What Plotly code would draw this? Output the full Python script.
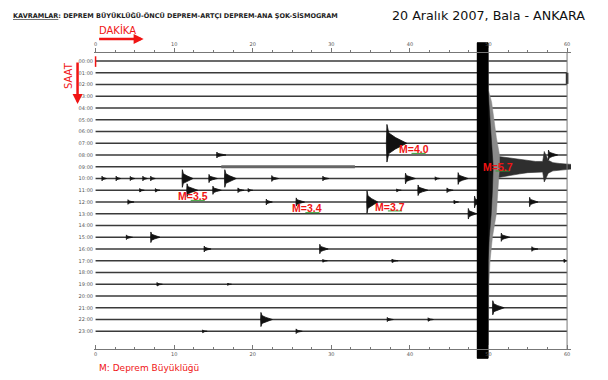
import plotly.graph_objects as go

# ---------------- data ----------------
HOURS = list(range(24))
HOUR_LABELS = ["00:00", "01:00", "02:00", "03:00", "04:00", "05:00", "06:00", "07:00",
               "08:00", "09:00", "10:00", "11:00", "12:00", "13:00", "14:00", "15:00",
               "16:00", "17:00", "18:00", "19:00", "20:00", "21:00", "22:00", "23:00"]
MINUTE_TICKS = [0, 10, 20, 30, 40, 50, 60]

# individual earthquakes: hour row, onset minute, half-amplitude (rows), duration (min)
ev_hour = [7, 8, 8, 10, 10, 10, 10, 10, 10, 10, 10, 10, 10, 10, 10, 10,
           11, 11, 11, 11, 11, 11, 11, 11, 11,
           12, 12, 12, 12, 12, 12, 12, 13,
           15, 15, 15, 16, 16, 16, 17, 17, 17, 19, 19, 21, 22, 22, 22, 23, 23]
ev_min = [37.0, 15.4, 57.6, 0.8, 2.6, 4.4, 6.0, 7.0, 11.0, 14.4, 16.4, 22.4, 28.9, 39.4, 43.2, 46.1,
          5.6, 7.6, 11.6, 14.9, 18.1, 19.4, 38.3, 41.0, 44.7,
          4.1, 21.7, 25.5, 34.5, 45.6, 48.2, 55.2, 47.4,
          3.9, 7.0, 51.6, 13.8, 28.5, 55.5, 28.9, 37.7, 59.6, 7.8, 16.8, 50.5, 21.0, 37.1, 42.3, 13.6, 25.5]
ev_amp = [1.6, 0.25, 0.42, 0.2, 0.2, 0.18, 0.2, 0.2, 0.75, 0.35, 0.75, 0.25, 0.2, 0.45, 0.15, 0.5,
          0.15, 0.15, 0.55, 0.35, 0.2, 0.15, 0.12, 0.45, 0.2,
          0.2, 0.25, 0.35, 0.95, 0.15, 0.5, 0.4, 0.45,
          0.2, 0.45, 0.35, 0.25, 0.4, 0.2, 0.12, 0.15, 0.15, 0.15, 0.1, 0.6, 0.6, 0.18, 0.15, 0.12, 0.2]
ev_dur = [2.6, 1.2, 1.2, 0.6, 0.6, 0.6, 0.6, 0.6, 1.4, 1.1, 1.5, 0.9, 0.8, 1.3, 0.6, 1.3,
          0.6, 0.6, 1.4, 1.1, 0.8, 0.6, 0.6, 1.3, 0.8,
          0.8, 0.8, 1.1, 1.4, 0.6, 0.9, 1.1, 1.1,
          0.8, 1.2, 1.1, 0.9, 1.1, 0.8, 0.6, 0.8, 0.4, 0.7, 0.5, 1.5, 1.5, 0.8, 0.7, 0.6, 0.8]

# noisier (wavy) stretch of a trace
wavy_hour = [9]
wavy_start = [16.0]
wavy_end = [33.0]

# main shock M=5.7 (saturated band crossing every trace)
main_hour = 9
main_start = 48.55
main_end = 49.95
main_band_top = -1.55
main_band_bottom = 25.3
# right-hand edge of the saturated band (grey strands / dark part) per hour
fringe_hour = [-1.55, 2.5, 3.5, 5.0, 6.5, 8.0, 9.0, 11.0, 13.0, 15.0, 17.0, 19.0, 25.3]
fringe_outer = [49.95, 50.0, 50.4, 50.7, 51.0, 51.4, 51.4, 51.2, 51.0, 50.5, 50.2, 50.05, 49.95]
fringe_inner = [49.95, 49.95, 50.05, 50.15, 50.3, 50.5, 50.6, 50.5, 50.35, 50.1, 49.95, 49.95, 49.95]
# coda of the main shock on the 09:00 trace
coda_min = [49.95, 50.5, 51.0, 52.0, 53.0, 54.0, 55.0, 56.0, 56.9, 57.1, 57.6, 58.2, 59.0, 60.5]
coda_amp = [1.2, 1.0, 0.9, 0.8, 0.7, 0.6, 0.5, 0.45, 0.45, 1.3, 0.55, 0.35, 0.28, 0.2]

# time marks
start_mark_min = 0.0
start_mark_hours = [-0.4, 0.5]
end_mark_min = 60.0
end_mark_hours = [1.0, 1.95]

# magnitude labels
mag_text = ["M=4.0", "M=5.7", "M=3.5", "M=3.4", "M=3.7"]
mag_x = [38.3, 49.0, 10.2, 24.8, 35.3]
mag_y = [7.5, 9.0, 11.5, 12.55, 12.4]

# ---------------- geometry (reference pixels; page has an 8px body margin) ----------------
OFF = 8
W, H = 608 - OFF, 380 - OFF
PXM = 471 / 60.0            # px per minute
XMIN, XMAX = -0.2, 60.5
L = 96 - OFF + XMIN * PXM
PW = (XMAX - XMIN) * PXM
R = W - L - PW
T, B = 36 - OFF, 16
PH = H - T - B
ROW = 11.75                 # px per hour row
Y_TOP = (36 - 61) / ROW
Y_BOT = Y_TOP + PH / ROW
TOP_AXIS_PX, BOT_AXIS_PX = 52, 349


def paper_x(px):
    return (px - OFF - L) / PW


def paper_y(py):
    return (H - B - (py - OFF)) / PH


def hour_at(py):
    return (py - 61) / ROW


RED = "#f01414"
fig = go.Figure()

# baselines of the 24 traces
bx, by = [], []
for h in HOURS:
    bx += [0, 60, None]
    by += [h, h, None]
fig.add_trace(go.Scatter(x=bx, y=by, mode="lines", line=dict(color="#3a3a3a", width=1.3),
                         hoverinfo="skip"))

# wavy stretches
wx, wy = [], []
for h, s, e in zip(wavy_hour, wavy_start, wavy_end):
    wx += [s, e, None]
    wy += [h, h, None]
fig.add_trace(go.Scatter(x=wx, y=wy, mode="lines", line=dict(color="#666", width=3),
                         hoverinfo="skip"))

# event spindles: sharp onset spike, short body, decaying tail
sx, sy = [], []
for h, t0, a, d in zip(ev_hour, ev_min, ev_amp, ev_dur):
    sx += [t0, t0 + 0.03 * d, t0 + 0.12 * d, t0 + 0.45 * d, t0 + d,
           t0 + 0.45 * d, t0 + 0.12 * d, t0 + 0.03 * d, t0, None]
    sy += [h, h - a, h - 0.55 * a, h - 0.3 * a, h,
           h + 0.3 * a, h + 0.55 * a, h + a, h, None]
fig.add_trace(go.Scatter(x=sx, y=sy, mode="lines", fill="toself", fillcolor="#111",
                         line=dict(color="#111", width=0.8), hoverinfo="skip"))

# main-shock coda on its own trace
cx = coda_min + coda_min[::-1]
cy = [main_hour - a for a in coda_amp] + [main_hour + a for a in coda_amp[::-1]]
fig.add_trace(go.Scatter(x=cx, y=cy, mode="lines", fill="toself", fillcolor="#2e2e2e",
                         line=dict(color="#2e2e2e", width=0.6), hoverinfo="skip"))

# grey fringe and dark fringe of the saturated band
for edge, col in ((fringe_outer, "#8a8a8a"), (fringe_inner, "#111")):
    fx = [main_start] + edge + [main_start]
    fy = [fringe_hour[0]] + fringe_hour + [fringe_hour[-1]]
    fig.add_trace(go.Scatter(x=fx, y=fy, mode="lines", fill="toself", fillcolor=col,
                             line=dict(color=col, width=0.5), hoverinfo="skip"))

# saturated band
fig.add_trace(go.Scatter(x=[main_start, main_end, main_end, main_start, main_start],
                         y=[main_band_top, main_band_top, main_band_bottom, main_band_bottom, main_band_top],
                         mode="lines", fill="toself", fillcolor="#000",
                         line=dict(color="#000", width=0.5), hoverinfo="skip"))

# time marks
fig.add_trace(go.Scatter(x=[start_mark_min, start_mark_min], y=start_mark_hours, mode="lines",
                         line=dict(color=RED, width=1.5), hoverinfo="skip"))
fig.add_trace(go.Scatter(x=[end_mark_min, end_mark_min], y=end_mark_hours, mode="lines",
                         line=dict(color="#000", width=2.5), hoverinfo="skip"))

# frame line on the right
fig.add_trace(go.Scatter(x=[60, 60], y=[hour_at(TOP_AXIS_PX), hour_at(BOT_AXIS_PX)], mode="lines",
                         line=dict(color="#777", width=1), hoverinfo="skip"))

# green underline of magnitude values
ux, uy = [], []
for x, y in zip(mag_x, mag_y):
    ux += [x + 1.9, x + 3.7, None]
    uy += [y + 0.36, y + 0.36, None]
fig.add_trace(go.Scatter(x=ux, y=uy, mode="lines", line=dict(color="#33a033", width=1),
                         hoverinfo="skip"))

# dummy trace for top axis
fig.add_trace(go.Scatter(x=[0, 60], y=[0, 0], xaxis="x2", mode="lines",
                         line=dict(width=0), hoverinfo="skip", opacity=0))

for t, x, y in zip(mag_text, mag_x, mag_y):
    fig.add_annotation(x=x, y=y, xref="x", yref="y", text="<b>" + t + "</b>", showarrow=False,
                       xanchor="left", yanchor="middle",
                       font=dict(family="Liberation Sans", size=10.5, color=RED))

axis_common = dict(range=[XMIN, XMAX], tickvals=MINUTE_TICKS, showgrid=False, zeroline=False,
                   showline=True, linecolor="#777", linewidth=1, tickcolor="#777",
                   ticklen=4, tickwidth=1,
                   tickfont=dict(family="DejaVu Sans", size=5, color="#555"))
fig.update_layout(
    width=W, height=H, showlegend=False,
    margin=dict(l=L, r=R, t=T, b=B, pad=0, autoexpand=False),
    plot_bgcolor="white", paper_bgcolor="white",
    xaxis=dict(**axis_common, side="bottom", anchor="free", position=paper_y(BOT_AXIS_PX),
               ticks="inside",
               minor=dict(dtick=2.5, tick0=0, ticks="inside", ticklen=2, tickcolor="#777")),
    xaxis2=dict(**axis_common, side="top", anchor="free", position=paper_y(TOP_AXIS_PX),
                overlaying="x", ticks="outside",
                minor=dict(dtick=2.5, tick0=0, ticks="outside", ticklen=2, tickcolor="#777")),
    yaxis=dict(range=[Y_BOT, Y_TOP], tickvals=HOURS, ticktext=HOUR_LABELS, ticks="",
               showline=False, showgrid=False, zeroline=False,
               tickfont=dict(family="DejaVu Sans", size=5, color="#555")),
)

# header / captions
fig.add_annotation(xref="paper", yref="paper", x=paper_x(12), y=paper_y(15), xanchor="left",
                   yanchor="middle", showarrow=False,
                   text="<b><u>KAVRAMLAR</u>: DEPREM BÜYÜKLÜĞÜ-ÖNCÜ DEPREM-ARTÇI DEPREM-ANA ŞOK-SİSMOGRAM</b>",
                   font=dict(family="DejaVu Sans", size=6.5, color="#222"))
fig.add_annotation(xref="paper", yref="paper", x=paper_x(390), y=paper_y(15), xanchor="left",
                   yanchor="middle", showarrow=False, text="20 Aralık 2007, Bala - ANKARA",
                   font=dict(family="DejaVu Sans", size=12.7, color="#111"))
fig.add_annotation(xref="paper", yref="paper", x=paper_x(97), y=paper_y(30), xanchor="left",
                   yanchor="middle", showarrow=False, text="DAKİKA",
                   font=dict(family="DejaVu Sans", size=10, color=RED))
fig.add_annotation(xref="paper", yref="paper", x=paper_x(144), y=paper_y(39), text="",
                   showarrow=True, arrowhead=2, arrowsize=0.8, arrowwidth=2.5, arrowcolor=RED,
                   ax=-46, ay=0)
fig.add_annotation(xref="paper", yref="paper", x=paper_x(68.5), y=paper_y(76), xanchor="center",
                   yanchor="middle", showarrow=False, text="SAAT", textangle=-90,
                   font=dict(family="DejaVu Sans", size=10, color=RED))
fig.add_annotation(xref="paper", yref="paper", x=paper_x(78), y=paper_y(104), text="",
                   showarrow=True, arrowhead=2, arrowsize=0.8, arrowwidth=2.5, arrowcolor=RED,
                   ax=0, ay=-43)
fig.add_annotation(xref="paper", yref="paper", x=paper_x(97), y=paper_y(368), xanchor="left",
                   yanchor="middle", showarrow=False, text="M: Deprem Büyüklüğü",
                   font=dict(family="DejaVu Sans", size=9, color=RED))

fig.write_html("out.html")
